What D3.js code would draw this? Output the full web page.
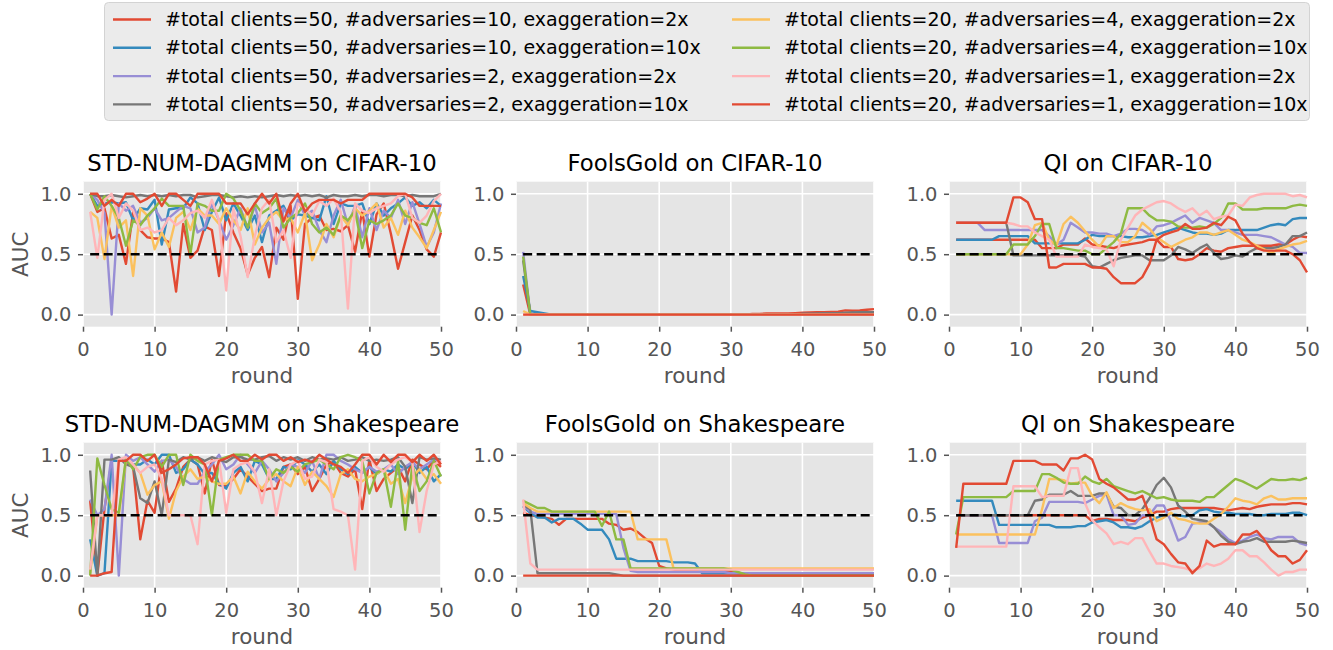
<!DOCTYPE html>
<html>
<head>
<meta charset="utf-8">
<script src="https://cdn.jsdelivr.net/npm/d3@7"></script>
<style>
  body { margin: 0; background: #fff; }
  text { font-family: "DejaVu Sans", sans-serif; }
</style>
</head>
<body>
<script>
// legend order: series 0..7
const legendLabels = [
  "#total clients=50, #adversaries=10, exaggeration=2x",
  "#total clients=50, #adversaries=10, exaggeration=10x",
  "#total clients=50, #adversaries=2, exaggeration=2x",
  "#total clients=50, #adversaries=2, exaggeration=10x",
  "#total clients=20, #adversaries=4, exaggeration=2x",
  "#total clients=20, #adversaries=4, exaggeration=10x",
  "#total clients=20, #adversaries=1, exaggeration=2x",
  "#total clients=20, #adversaries=1, exaggeration=10x"
];
const colors = ["#E24A33", "#348ABD", "#988ED5", "#777777", "#FBC15E", "#8EBA42", "#FFB5B8", "#E24A33"];
const panelTitles = [
  "STD-NUM-DAGMM on CIFAR-10", "FoolsGold on CIFAR-10", "QI on CIFAR-10",
  "STD-NUM-DAGMM on Shakespeare", "FoolsGold on Shakespeare", "QI on Shakespeare"
];
const xTicks = [0, 10, 20, 30, 40, 50];
const yTicks = [0, 0.5, 1];
const rounds = d3.range(1, 51);
const chance = 0.5;

const dagmmCifar = [
  [1.0,0.85,0.88,0.63,0.66,0.42,0.85,0.70,0.64,0.63, 0.63,0.60,0.19,0.75,0.47,0.53,0.73,0.70,0.32,0.84, 0.68,0.55,0.33,0.47,0.56,0.31,0.72,0.62,0.90,0.13, 0.75,0.80,0.82,0.70,0.71,0.69,0.74,0.52,0.86,0.48, 0.83,0.92,0.67,0.38,0.60,0.82,0.70,0.54,0.48,0.68],
  [1.0,0.90,0.92,0.93,0.92,0.93,0.78,0.88,0.87,0.95, 0.58,0.87,0.88,0.88,0.97,0.92,0.70,0.85,0.97,0.78, 0.92,0.82,0.70,0.82,0.60,0.82,0.86,0.90,0.78,0.83, 0.82,0.80,0.78,0.98,0.75,0.92,0.90,0.90,0.92,0.75, 0.92,0.82,0.88,0.92,0.97,0.90,0.93,0.88,0.95,0.90],
  [1.0,0.95,0.84,0.0,0.92,0.86,0.90,0.76,0.80,0.88, 0.78,0.80,0.85,0.90,0.88,0.68,0.72,0.92,0.78,0.62, 0.74,0.88,0.72,0.90,0.68,0.76,0.42,0.88,0.80,0.95, 0.82,0.86,0.70,0.60,0.82,0.95,0.74,0.90,0.64,0.88, 0.70,0.86,0.80,0.95,0.75,0.93,0.75,0.56,0.68,0.92],
  [1.0,0.98,0.98,0.99,0.98,0.97,0.98,0.99,0.98,0.99, 0.98,0.99,0.98,0.99,0.99,0.97,0.98,0.99,0.99,0.98, 0.97,0.98,0.97,0.98,0.97,0.98,0.99,0.98,0.99,0.98, 0.99,0.98,0.99,0.97,0.99,0.98,0.98,0.99,0.98,0.99, 0.99,0.98,0.99,0.99,0.98,0.99,0.98,0.98,0.98,1.0],
  [0.85,0.80,0.46,0.90,0.72,0.78,0.32,0.88,0.82,0.54, 0.68,0.56,0.80,0.85,0.70,0.88,0.82,0.82,0.75,0.88, 0.78,0.70,0.88,0.58,0.72,0.80,0.85,0.78,0.80,0.68, 0.84,0.45,0.58,0.75,0.64,0.82,0.74,0.88,0.82,0.86, 0.92,0.72,0.80,0.66,0.86,0.72,0.64,0.55,0.70,0.85],
  [1.0,0.87,0.98,0.90,0.80,0.57,0.78,0.74,0.82,0.88, 0.96,0.90,0.90,0.90,0.50,0.92,0.90,0.86,0.86,1.0, 0.96,0.86,0.72,0.92,0.84,0.88,0.96,0.72,0.80,0.84, 0.92,0.75,0.68,0.72,0.66,0.82,0.78,0.86,0.55,0.78, 0.75,0.78,0.82,0.92,0.82,0.80,0.76,0.74,0.88,0.68],
  [0.85,0.47,0.95,1.0,0.80,0.92,0.86,0.70,0.72,0.68, 0.70,0.80,0.74,0.78,0.84,0.86,0.80,0.95,0.78,0.20, 0.88,0.65,0.31,0.65,0.88,0.95,0.60,0.70,0.47,0.92, 0.88,0.82,0.94,0.90,0.96,0.85,0.05,0.92,0.86,0.84, 0.88,0.90,0.92,0.98,1.0,0.80,0.76,0.82,0.94,1.0],
  [1.0,1.0,0.90,0.95,0.90,1.0,1.0,0.93,0.96,1.0, 0.90,1.0,1.0,0.95,0.90,1.0,1.0,1.0,1.0,0.92, 0.92,0.92,0.83,0.92,1.0,0.92,1.0,0.77,0.92,1.0, 0.85,0.92,0.95,0.95,0.95,0.92,0.95,0.95,0.95,1.0, 1.0,1.0,1.0,1.0,1.0,0.97,0.90,0.90,0.90,0.90]
];

const foolsCifar = [
  [0.25,0,0,0,0,0,0,0,0,0, 0,0,0,0,0,0,0,0,0,0, 0,0,0,0,0,0,0,0,0,0, 0,0,0.005,0.005,0.01,0.01,0.01,0.01,0.012,0.015, 0.018,0.02,0.02,0.022,0.025,0.035,0.032,0.035,0.04,0.045],
  [0.32,0.03,0.02,0.01,0,0,0,0,0,0, 0,0,0,0,0,0,0,0,0,0, 0,0,0,0,0,0,0,0,0,0, 0,0,0,0,0,0,0,0,0,0.005, 0.005,0.005,0.008,0.008,0.01,0.01,0.01,0.012,0.012,0.015],
  [0.52,0,0,0,0,0,0,0,0,0, 0,0,0,0,0,0,0,0,0,0, 0,0,0,0,0,0,0,0,0,0, 0,0,0,0,0,0,0,0,0,0, 0,0,0,0,0,0,0,0,0,0],
  [0.45,0,0,0,0,0,0,0,0,0, 0,0,0,0,0,0,0,0,0,0, 0,0,0,0,0,0,0,0,0,0, 0,0,0,0,0,0,0,0,0,0.005, 0.006,0.008,0.01,0.01,0.012,0.015,0.018,0.02,0.02,0.02],
  [0.03,0,0,0,0,0,0,0,0,0, 0,0,0,0,0,0,0,0,0,0, 0,0,0,0,0,0,0,0,0,0, 0,0,0,0,0,0,0,0,0,0, 0,0,0,0,0,0,0,0,0,0],
  [0.48,0,0,0,0,0,0,0,0,0, 0,0,0,0,0,0,0,0,0,0, 0,0,0,0,0,0,0,0,0,0, 0,0,0,0,0,0,0,0,0,0, 0,0,0,0,0,0,0,0,0,0],
  [0,0,0,0,0,0,0,0,0,0, 0,0,0,0,0,0,0,0,0,0, 0,0,0,0,0,0,0,0,0,0, 0,0,0,0,0,0,0,0,0,0, 0,0,0,0,0,0,0,0,0,0],
  [0,0,0,0,0,0,0,0,0,0, 0,0,0,0,0,0,0,0,0,0, 0,0,0,0,0,0,0,0,0,0, 0,0,0,0,0,0,0,0,0,0, 0,0,0,0,0,0,0,0,0,0]
];

const qiCifar = [
  [0.62,0.62,0.62,0.62,0.62,0.62,0.62,0.62,0.62,0.62, 0.62,0.62,0.55,0.55,0.55,0.58,0.58,0.58,0.63,0.58, 0.57,0.56,0.55,0.57,0.58,0.59,0.60,0.62,0.62,0.56, 0.56,0.46,0.45,0.46,0.50,0.55,0.53,0.52,0.55,0.56, 0.57,0.57,0.57,0.57,0.57,0.58,0.58,0.62,0.65,0.64],
  [0.62,0.62,0.62,0.62,0.62,0.62,0.65,0.65,0.65,0.65, 0.65,0.59,0.59,0.59,0.59,0.59,0.59,0.59,0.62,0.66, 0.65,0.65,0.65,0.65,0.64,0.64,0.64,0.65,0.66,0.68, 0.70,0.72,0.70,0.68,0.67,0.67,0.66,0.67,0.70,0.70, 0.70,0.70,0.70,0.72,0.74,0.75,0.74,0.79,0.80,0.80],
  [0.76,0.76,0.76,0.76,0.70,0.70,0.70,0.70,0.70,0.70, 0.70,0.70,0.70,0.65,0.58,0.62,0.76,0.72,0.68,0.68, 0.67,0.67,0.65,0.67,0.71,0.71,0.70,0.66,0.73,0.74, 0.76,0.79,0.82,0.76,0.80,0.78,0.76,0.70,0.70,0.68, 0.66,0.66,0.66,0.65,0.64,0.61,0.58,0.56,0.51,0.51],
  [0.76,0.76,0.76,0.76,0.76,0.76,0.76,0.76,0.49,0.49, 0.49,0.49,0.49,0.49,0.49,0.49,0.49,0.49,0.48,0.40, 0.39,0.42,0.45,0.47,0.48,0.49,0.49,0.45,0.45,0.45, 0.49,0.56,0.54,0.51,0.55,0.58,0.51,0.46,0.47,0.49, 0.48,0.52,0.55,0.55,0.55,0.56,0.58,0.65,0.65,0.68],
  [0.50,0.50,0.50,0.50,0.50,0.50,0.50,0.50,0.50,0.50, 0.58,0.74,0.76,0.62,0.57,0.75,0.81,0.76,0.69,0.62, 0.56,0.65,0.65,0.60,0.60,0.65,0.76,0.71,0.64,0.60, 0.56,0.59,0.62,0.64,0.68,0.68,0.66,0.68,0.70,0.66, 0.62,0.60,0.57,0.54,0.51,0.54,0.56,0.58,0.59,0.61],
  [0.50,0.50,0.50,0.50,0.50,0.50,0.50,0.50,0.58,0.58, 0.58,0.65,0.75,0.75,0.55,0.55,0.54,0.53,0.53,0.50, 0.50,0.55,0.60,0.67,0.88,0.88,0.88,0.82,0.78,0.78, 0.77,0.73,0.72,0.72,0.73,0.72,0.75,0.80,0.92,0.92, 0.87,0.87,0.87,0.88,0.88,0.88,0.88,0.90,0.91,0.90],
  [0.76,0.76,0.76,0.76,0.76,0.76,0.76,0.76,0.75,0.73, 0.73,0.68,0.65,0.62,0.48,0.48,0.48,0.48,0.58,0.56, 0.55,0.54,0.40,0.62,0.72,0.82,0.87,0.90,0.93,0.94, 0.92,0.88,0.85,0.88,0.82,0.86,0.79,0.81,0.82,0.91, 0.90,0.97,0.99,1.0,1.0,1.0,1.0,0.98,0.99,0.97],
  [0.76,0.76,0.76,0.76,0.76,0.76,0.76,0.76,0.97,0.97, 0.93,0.79,0.79,0.39,0.39,0.42,0.42,0.42,0.42,0.39, 0.39,0.38,0.31,0.26,0.26,0.26,0.31,0.42,0.62,0.66, 0.68,0.70,0.75,0.71,0.71,0.72,0.76,0.74,0.81,0.78, 0.67,0.60,0.55,0.53,0.53,0.53,0.53,0.50,0.45,0.35]
];

const dagmmShake = [
  [0.62,0.0,0.55,0.95,0.95,0.95,0.90,0.30,0.62,0.52, 0.95,0.61,0.72,0.90,0.96,0.92,0.68,0.96,0.75,0.74, 0.80,0.88,0.82,0.76,0.70,0.72,0.72,0.90,0.92,0.84, 0.90,0.70,0.80,0.92,0.94,0.85,0.82,0.88,0.55,0.96, 0.70,0.80,0.85,0.90,0.78,0.96,0.92,0.88,0.95,0.90],
  [0.30,0.0,0.02,0.95,0.95,0.95,0.92,0.92,0.96,0.92, 1.0,1.0,0.85,0.88,0.96,0.92,0.84,0.85,0.76,0.72, 0.85,0.90,0.78,0.95,0.92,0.80,0.80,0.90,0.88,0.96, 0.92,0.86,0.92,0.84,0.95,0.88,0.84,0.90,0.85,0.90, 0.84,0.88,0.86,0.92,0.88,0.94,0.85,0.90,0.78,0.84],
  [0.63,0.50,0.55,1.0,0.0,1.0,0.95,0.98,0.92,0.86, 0.95,0.96,0.90,0.80,0.76,0.76,0.86,0.92,1.0,0.88, 0.92,1.0,0.92,0.85,0.95,0.88,0.78,0.85,0.92,0.90, 0.85,0.95,0.80,1.0,1.0,0.95,0.92,0.88,0.85,0.90, 0.86,0.88,0.92,0.84,0.90,0.94,0.88,0.92,0.96,0.95],
  [0.87,0.0,0.96,0.96,0.98,0.92,0.90,0.64,0.60,0.78, 0.50,0.96,0.94,0.98,0.96,0.98,0.95,0.98,0.96,0.94, 0.98,0.98,0.96,0.96,0.98,0.99,0.95,0.98,0.96,0.98, 0.95,0.98,0.96,0.97,0.96,0.98,0.95,0.96,0.98,0.95, 0.96,0.95,0.96,0.98,0.90,0.60,0.98,0.96,0.97,0.96],
  [0.02,0.50,0.50,0.50,0.50,0.96,0.92,0.85,0.67,0.75, 0.78,0.47,0.70,0.82,0.88,0.80,0.82,0.78,0.76,0.76, 0.82,0.68,0.86,0.78,0.72,0.80,0.84,0.78,0.74,0.90, 0.75,0.86,0.80,0.74,0.65,0.84,0.88,0.80,0.78,0.82, 0.84,0.88,0.76,0.80,0.60,0.82,0.88,0.80,0.84,0.76],
  [0.0,0.97,0.75,0.55,0.52,0.97,0.88,0.98,1.0,1.0, 0.90,1.0,1.0,0.75,1.0,0.95,0.92,0.50,0.96,0.98, 1.0,1.0,1.0,0.95,0.95,0.80,0.88,0.85,0.90,0.86, 0.92,0.94,0.96,0.92,0.88,0.98,1.0,0.98,0.95,0.68, 0.85,0.88,0.57,0.95,0.38,0.92,0.70,0.78,0.95,0.82],
  [0.05,0.50,0.50,0.50,0.96,0.98,0.92,0.85,0.90,0.92, 0.80,0.50,0.50,0.50,0.50,0.26,0.92,0.95,0.96,0.52, 0.88,0.92,0.94,0.86,0.60,0.88,0.50,0.78,0.92,0.95, 0.80,0.82,0.96,0.94,0.55,0.53,0.50,0.05,0.95,0.98, 0.90,0.86,0.92,0.96,0.98,0.94,0.36,0.70,0.92,0.95],
  [0.0,0.0,0.02,0.03,0.95,0.95,1.0,1.0,0.95,1.0, 0.85,0.88,0.92,0.97,0.98,0.98,0.92,0.78,0.95,0.97, 1.0,0.95,0.95,1.0,0.96,1.0,1.0,0.95,0.98,0.94, 0.96,0.94,1.0,0.96,0.92,0.90,0.85,0.92,1.0,1.0, 0.92,1.0,0.94,1.0,1.0,0.94,1.0,0.95,1.0,0.92]
];

const foolsShake = [
  [0.52,0.50,0.49,0.48,0.47,0.42,0.47,0.47,0.47,0.47, 0.47,0.47,0.43,0.42,0.38,0.39,0.36,0.31,0.27,0.08, 0.06,0.05,0.04,0.04,0.04,0.04,0.04,0.04,0.04,0.04, 0.02,0.02,0.02,0.02,0.02,0.02,0.02,0.02,0.02,0.02, 0.02,0.02,0.02,0.02,0.02,0.02,0.02,0.02,0.02,0.02],
  [0.57,0.52,0.48,0.48,0.44,0.47,0.47,0.47,0.43,0.38, 0.38,0.38,0.30,0.14,0.14,0.14,0.12,0.12,0.12,0.12, 0.12,0.11,0.11,0.11,0.10,0.02,0.02,0.02,0.02,0.02, 0.02,0.02,0.02,0.02,0.02,0.02,0.02,0.02,0.02,0.02, 0.02,0.02,0.02,0.02,0.02,0.01,0.01,0.01,0.01,0.01],
  [0.58,0.53,0.51,0.51,0.51,0.51,0.51,0.51,0.51,0.51, 0.51,0.51,0.51,0.51,0.23,0.04,0.03,0.03,0.03,0.03, 0.03,0.03,0.03,0.03,0.03,0.03,0.03,0.03,0.03,0.02, 0.02,0.02,0.02,0.02,0.02,0.02,0.02,0.02,0.02,0.02, 0.02,0.02,0.02,0.02,0.02,0.02,0.02,0.02,0.02,0.02],
  [0.58,0.55,0.02,0.02,0.02,0.02,0.02,0.02,0.02,0.02, 0.02,0.02,0.02,0.01,0,0,0,0,0,0, 0,0,0,0,0,0,0,0,0,0, 0,0,0,0,0,0,0,0,0,0, 0,0,0,0,0,0,0,0,0,0],
  [0.60,0.56,0.53,0.53,0.53,0.53,0.53,0.53,0.53,0.53, 0.53,0.53,0.53,0.53,0.53,0.53,0.30,0.30,0.30,0.30, 0.30,0.06,0.06,0.06,0.06,0.06,0.06,0.06,0.06,0.06, 0.06,0.06,0.06,0.06,0.06,0.06,0.06,0.06,0.06,0.06, 0.06,0.06,0.06,0.06,0.06,0.06,0.06,0.06,0.06,0.06],
  [0.62,0.59,0.56,0.56,0.53,0.53,0.53,0.53,0.53,0.53, 0.53,0.41,0.53,0.30,0.30,0.06,0.06,0.06,0.06,0.06, 0.06,0.06,0.06,0.06,0.06,0.06,0.06,0.06,0.06,0.05, 0.03,0.01,0,0,0,0,0,0,0,0, 0,0,0,0,0,0,0,0,0,0],
  [0.63,0.10,0.05,0.05,0.05,0.05,0.05,0.05,0.05,0.05, 0.05,0.05,0.05,0.05,0.05,0.05,0.05,0.05,0.05,0.05, 0.05,0.05,0.05,0.05,0.05,0.05,0.05,0.05,0.05,0.05, 0.05,0.05,0.05,0.05,0.05,0.05,0.05,0.05,0.05,0.05, 0.05,0.05,0.05,0.05,0.05,0.05,0.05,0.05,0.05,0.05],
  [0,0,0,0,0,0,0,0,0,0, 0,0,0,0,0,0,0,0,0,0, 0,0,0,0,0,0,0,0,0,0, 0,0,0,0,0,0,0,0,0,0, 0,0,0,0,0,0,0,0,0,0]
];

const qiShake = [
  [0.50,0.50,0.50,0.50,0.50,0.50,0.50,0.50,0.50,0.50, 0.50,0.50,0.50,0.50,0.50,0.50,0.50,0.50,0.50,0.45, 0.47,0.47,0.46,0.46,0.46,0.45,0.48,0.50,0.53,0.53, 0.55,0.56,0.56,0.56,0.56,0.56,0.56,0.55,0.54,0.55, 0.56,0.55,0.57,0.58,0.59,0.59,0.59,0.60,0.60,0.59],
  [0.62,0.62,0.62,0.62,0.62,0.62,0.42,0.42,0.42,0.42, 0.42,0.42,0.42,0.42,0.40,0.40,0.40,0.41,0.41,0.44, 0.45,0.46,0.44,0.40,0.40,0.39,0.41,0.45,0.48,0.50, 0.51,0.50,0.49,0.50,0.54,0.55,0.53,0.52,0.52,0.51, 0.51,0.51,0.50,0.50,0.51,0.51,0.51,0.52,0.52,0.50],
  [0.50,0.50,0.50,0.50,0.50,0.50,0.27,0.27,0.27,0.27, 0.27,0.45,0.48,0.61,0.61,0.61,0.61,0.61,0.60,0.63, 0.66,0.67,0.50,0.50,0.42,0.43,0.50,0.50,0.58,0.58, 0.45,0.29,0.32,0.43,0.44,0.44,0.40,0.36,0.30,0.27, 0.29,0.32,0.34,0.31,0.30,0.32,0.32,0.32,0.27,0.25],
  [0.50,0.50,0.50,0.50,0.50,0.50,0.50,0.50,0.50,0.50, 0.50,0.62,0.63,0.67,0.67,0.67,0.70,0.66,0.66,0.66, 0.68,0.68,0.57,0.56,0.50,0.50,0.55,0.64,0.75,0.81, 0.73,0.58,0.53,0.47,0.46,0.45,0.40,0.33,0.28,0.26, 0.28,0.29,0.31,0.28,0.28,0.28,0.28,0.29,0.28,0.27],
  [0.34,0.34,0.34,0.34,0.34,0.34,0.34,0.34,0.34,0.34, 0.34,0.34,0.55,0.80,0.80,0.79,0.76,0.77,0.77,0.66, 0.60,0.69,0.56,0.60,0.57,0.55,0.54,0.55,0.45,0.48, 0.52,0.47,0.46,0.44,0.43,0.43,0.47,0.51,0.57,0.64, 0.62,0.61,0.59,0.64,0.66,0.63,0.63,0.64,0.64,0.64],
  [0.34,0.65,0.65,0.65,0.65,0.65,0.65,0.65,0.70,0.70, 0.70,0.70,0.84,0.84,0.81,0.77,0.76,0.76,0.82,0.78, 0.76,0.80,0.74,0.72,0.70,0.68,0.70,0.67,0.64,0.65, 0.63,0.62,0.62,0.62,0.61,0.65,0.65,0.70,0.75,0.80, 0.78,0.75,0.72,0.76,0.80,0.79,0.79,0.80,0.79,0.81],
  [0.24,0.24,0.24,0.24,0.24,0.24,0.24,0.24,0.74,0.74, 0.74,0.74,0.65,0.66,0.66,0.66,0.89,0.89,0.60,0.46, 0.40,0.35,0.26,0.28,0.26,0.31,0.31,0.20,0.10,0.10, 0.08,0.07,0.06,0.04,0.06,0.10,0.08,0.10,0.14,0.21, 0.21,0.16,0.16,0.11,0.05,0.0,0.03,0.03,0.05,0.05],
  [0.23,0.76,0.76,0.76,0.76,0.76,0.76,0.76,0.95,0.95, 0.95,0.95,0.92,0.92,0.92,0.87,0.97,0.97,1.0,0.96, 0.80,0.76,0.73,0.68,0.63,0.63,0.66,0.50,0.30,0.26, 0.18,0.11,0.10,0.02,0.08,0.29,0.24,0.26,0.26,0.26, 0.34,0.34,0.37,0.30,0.21,0.16,0.16,0.10,0.13,0.21]
];

const panels = [dagmmCifar, foolsCifar, qiCifar, dagmmShake, foolsShake, qiShake];

const width = 1333, height = 650;
const colX = [83, 516, 949], rowY = [181.7, 442.7];
const pw = 358, ph = 145;

const svg = d3.select("body").append("svg")
  .attr("width", width)
  .attr("height", height);

svg.append("rect").attr("width", width).attr("height", height).attr("fill", "#fff");

const x = d3.scaleLinear().domain([0, 50]).range([0, pw]);
const y = d3.scaleLinear().domain([-0.1, 1.1]).range([ph, 0]);

const line = d3.line()
  .x((d, i) => x(rounds[i]))
  .y(d => y(d));

panels.forEach((series, i) => {
  const col = i % 3, row = Math.floor(i / 3);
  const g = svg.append("g")
    .attr("transform", `translate(${colX[col]},${rowY[row]})`);

  g.append("rect")
    .attr("width", pw).attr("height", ph)
    .attr("fill", "#e5e5e5");

  // grid
  g.selectAll("line.gx").data(xTicks).join("line")
    .attr("class", "gx")
    .attr("x1", d => x(d)).attr("x2", d => x(d))
    .attr("y1", 0).attr("y2", ph)
    .attr("stroke", "#fff").attr("stroke-width", 1.6);
  g.selectAll("line.gy").data(yTicks).join("line")
    .attr("class", "gy")
    .attr("x1", 0).attr("x2", pw)
    .attr("y1", d => y(d)).attr("y2", d => y(d))
    .attr("stroke", "#fff").attr("stroke-width", 1.6);

  // series
  g.selectAll("path.series").data(series).join("path")
    .attr("class", "series")
    .attr("d", line)
    .attr("fill", "none")
    .attr("stroke", (d, j) => colors[j])
    .attr("stroke-width", 2.4)
    .attr("stroke-linejoin", "round");

  // 0.5 reference
  g.append("line")
    .attr("x1", x(rounds[0])).attr("x2", x(rounds[rounds.length - 1]))
    .attr("y1", y(chance)).attr("y2", y(chance))
    .attr("stroke", "#000")
    .attr("stroke-width", 2.6)
    .attr("stroke-dasharray", "9,4.5");

  // axes
  const xa = g.append("g")
    .attr("transform", `translate(0,${ph})`)
    .call(d3.axisBottom(x).tickValues(xTicks).tickSize(5).tickPadding(10));
  const ya = g.append("g")
    .call(d3.axisLeft(y).tickValues(yTicks).tickFormat(d3.format(".1f")).tickSize(5).tickPadding(6.5));
  [xa, ya].forEach(a => {
    a.select(".domain").remove();
    a.attr("font-size", 19.5).attr("font-family", "DejaVu Sans");
    a.selectAll("line").attr("stroke", "#555").attr("stroke-width", 1.5);
    a.selectAll("text").attr("fill", "#555");
  });

  g.append("text")
    .attr("x", pw / 2).attr("y", ph + 56.5)
    .attr("text-anchor", "middle")
    .attr("font-size", 21.5)
    .attr("fill", "#555")
    .text("round");

  if (col === 0) {
    g.append("text")
      .attr("transform", `translate(${28 - colX[0]},${ph / 2}) rotate(-90)`)
      .attr("text-anchor", "middle")
      .attr("font-size", 21.5)
      .attr("fill", "#555")
      .text("AUC");
  }

  g.append("text")
    .attr("x", pw / 2).attr("y", -10.8)
    .attr("text-anchor", "middle")
    .attr("font-size", 22.8)
    .attr("fill", "#000")
    .text(panelTitles[i]);
});

// legend
const legend = svg.append("g");
legend.append("rect")
  .attr("x", 104.5).attr("y", 2.5)
  .attr("width", 1205).attr("height", 118)
  .attr("rx", 4)
  .attr("fill", "#ebebeb")
  .attr("stroke", "#d3d3d3");

const legX = [113, 732], rowStep = 28.3, row0 = 19.5;
const items = legend.selectAll("g.item").data(legendLabels).join("g")
  .attr("class", "item")
  .attr("transform", (d, i) => `translate(${legX[Math.floor(i / 4)]},${row0 + (i % 4) * rowStep})`);
items.append("line")
  .attr("x1", 0).attr("x2", 38)
  .attr("stroke", (d, i) => colors[i])
  .attr("stroke-width", 2.4);
items.append("text")
  .attr("x", 52).attr("dy", "0.35em")
  .attr("font-size", 19)
  .attr("fill", "#000")
  .text(d => d);
</script>
</body>
</html>
